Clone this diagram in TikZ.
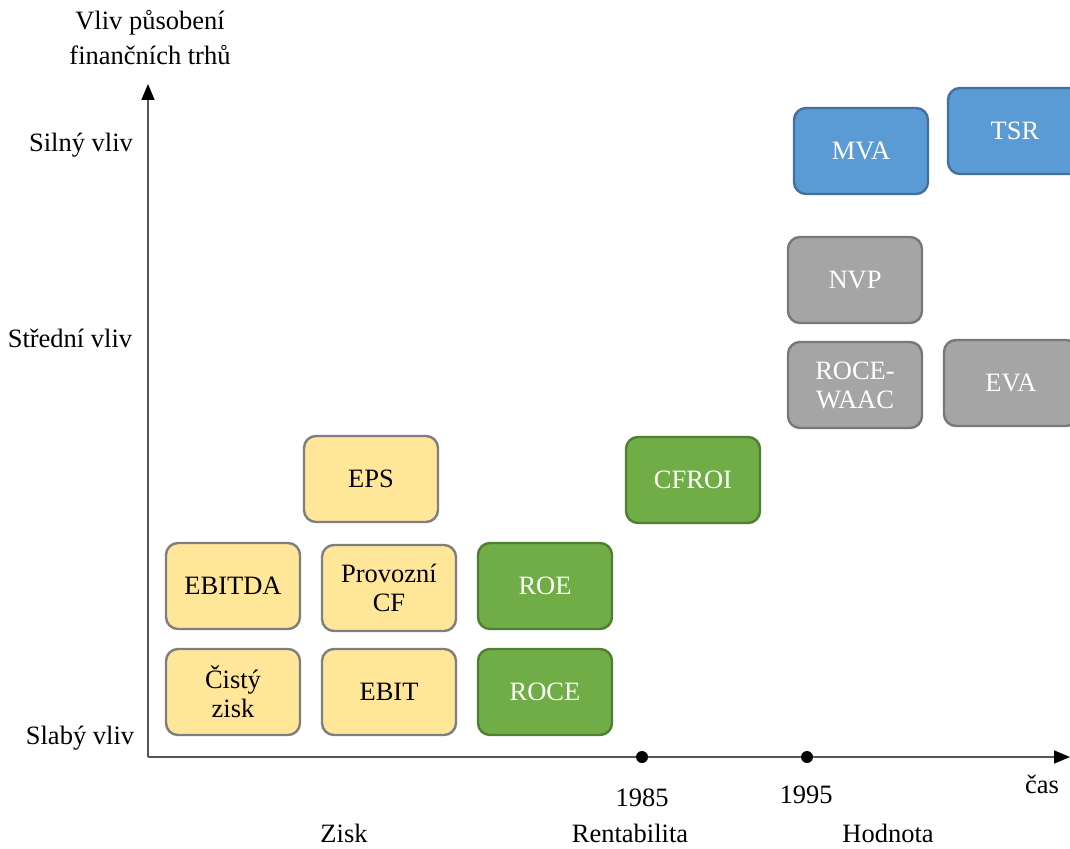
\documentclass[tikz,border=0pt]{standalone}
\usepackage{fontspec}
\setmainfont{Liberation Serif}
\usetikzlibrary{arrows.meta}
\definecolor{yfill}{HTML}{FFE699}
\definecolor{ydraw}{HTML}{7F7F7F}
\definecolor{gfill}{HTML}{70AD47}
\definecolor{gdraw}{HTML}{507E32}
\definecolor{bfill}{HTML}{5B9BD5}
\definecolor{bdraw}{HTML}{41719C}
\definecolor{sfill}{HTML}{A5A5A5}
\definecolor{sdraw}{HTML}{787878}
\definecolor{axisc}{HTML}{555555}
\tikzset{
  box/.style={rectangle, rounded corners=12pt, minimum width=134pt, minimum height=86pt,
    inner sep=0pt, line width=2.4pt, align=center, font=\fontsize{26.5}{29}\selectfont},
  ybox/.style={box, fill=yfill, draw=ydraw, text=black},
  gbox/.style={box, fill=gfill, draw=gdraw, text=white},
  bbox/.style={box, fill=bfill, draw=bdraw, text=white},
  sbox/.style={box, fill=sfill, draw=sdraw, text=white},
  lbl/.style={inner sep=0pt, align=center, font=\fontsize{26.5}{35}\selectfont},
  axis/.style={draw=axisc, line width=1.6pt, -{Triangle[length=16pt,width=13pt,fill=black,color=black]}},
  dot/.style={circle, fill=black, inner sep=0pt, minimum size=12pt}
}
\begin{document}
\begin{tikzpicture}[x=1pt,y=-1pt]
\useasboundingbox (0,0) rectangle (1070,848);
\clip (0,0) rectangle (1070,848);
\fill[white] (0,0) rectangle (1070,848);
% axes
\coordinate (o) at (148,757);
\coordinate (ytop) at (148,84);
\coordinate (xend) at (1070,757);
\draw[axis] (o) -- (ytop);
\draw[axis] (o) -- (xend);
\node[dot] (d1) at (642,757) {};
\node[dot] (d2) at (807,757) {};
% axis labels
\node[lbl] (ytitle) at (150,38) {Vliv působení\\finančních trhů};
\node[lbl] (silny) at (81,145) {Silný vliv};
\node[lbl] (stredni) at (70,338) {Střední vliv};
\node[lbl] (slaby) at (80,738) {Slabý vliv};
\node[lbl] (y1985) at (642,798) {1985};
\node[lbl] (y1995) at (806,795) {1995};
\node[lbl] (cas) at (1042,784) {čas};
\node[lbl] (zisk) at (344,833) {Zisk};
\node[lbl] (rent) at (630,833) {Rentabilita};
\node[lbl] (hod) at (888,833) {Hodnota};
% boxes
\node[ybox] (cisty) at (233,692) {Čistý\\zisk};
\node[ybox] (ebit) at (389,692) {EBIT};
\node[ybox] (ebitda) at (233,586) {EBITDA};
\node[ybox] (prov) at (389,588) {Provozní\\CF};
\node[ybox] (eps) at (371,479) {EPS};
\node[gbox] (roe) at (545,586) {ROE};
\node[gbox] (roce) at (545,692) {ROCE};
\node[gbox] (cfroi) at (693,480) {CFROI};
\node[sbox] (rocew) at (855,385) {ROCE-\\WAAC};
\node[sbox] (eva) at (1011,383) {EVA};
\node[sbox] (nvp) at (855,280) {NVP};
\node[bbox] (mva) at (861,151) {MVA};
\node[bbox] (tsr) at (1015,131) {TSR};
\end{tikzpicture}
\end{document}
